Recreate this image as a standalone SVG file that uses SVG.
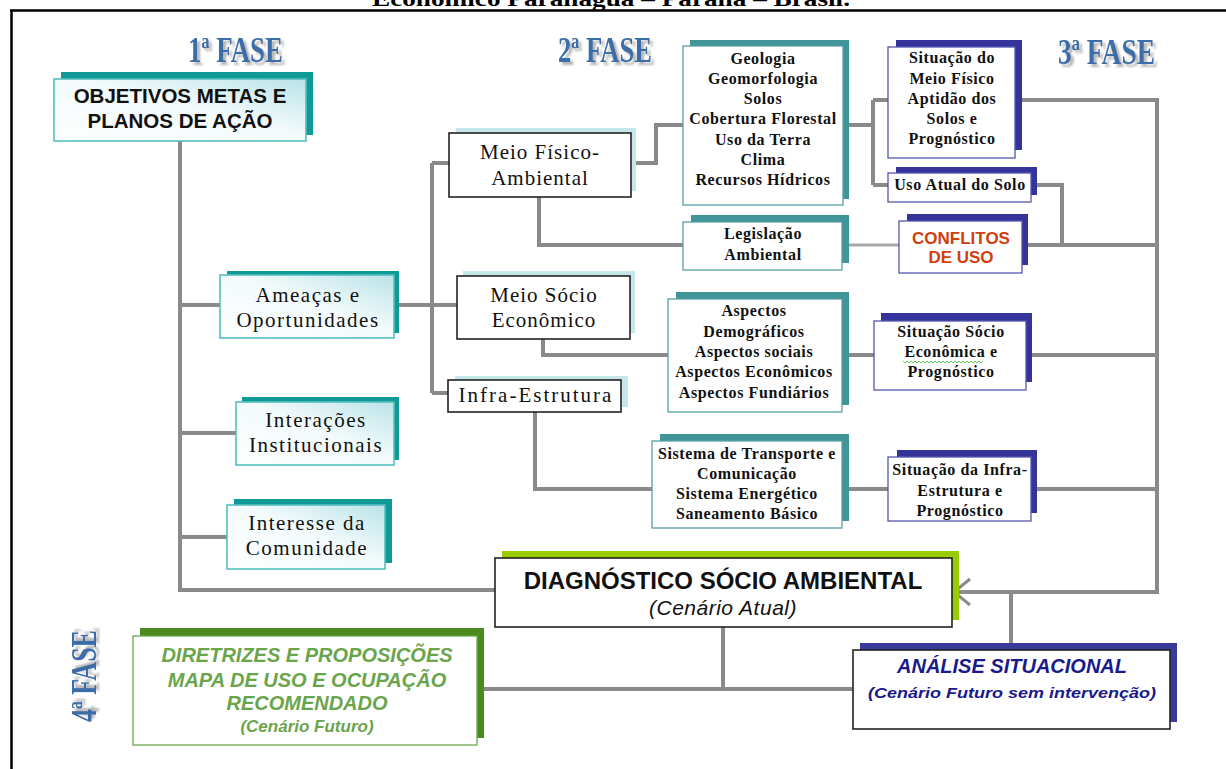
<svg xmlns="http://www.w3.org/2000/svg" width="1226" height="769" viewBox="0 0 1226 769">
<defs>
<linearGradient id="g1" x1="0" y1="1" x2="1" y2="0">
<stop offset="0" stop-color="#ffffff"/>
<stop offset="0.55" stop-color="#f2fafb"/>
<stop offset="1" stop-color="#b9e3e8"/>
</linearGradient>
<filter id="fs" x="-10%" y="-20%" width="130%" height="150%">
<feOffset in="SourceAlpha" dx="3" dy="3" result="o"/>
<feGaussianBlur in="o" stdDeviation="0.8" result="b"/>
<feFlood flood-color="#b5b5b5"/>
<feComposite in2="b" operator="in" result="s"/>
<feMerge><feMergeNode in="s"/><feMergeNode in="SourceGraphic"/></feMerge>
</filter>
<marker id="arr" markerUnits="userSpaceOnUse" markerWidth="26" markerHeight="30" refX="22" refY="14" orient="auto">
<path d="M6,1 L22,14 L6,27" fill="none" stroke="#8a8a8a" stroke-width="3"/>
</marker>
<style>
.c{fill:none;stroke:#8a8a8a;stroke-width:4}
.cl{fill:none;stroke:#a8a8a8;stroke-width:3}
.shT{fill:#0f9a98}
.shT2{fill:#409599}
.shN{fill:#333399}
.shC{fill:#c5e7ea}
.shG{fill:#99cc00}
.shD{fill:#4b8a1e}
.bL{fill:url(#g1);stroke:#55bfbf;stroke-width:1.6}
.bK{fill:#fff;stroke:#222;stroke-width:1.6}
.bT{fill:#fff;stroke:#5a9ea6;stroke-width:1.3}
.bN{fill:#fff;stroke:#5555b0;stroke-width:1.3}
.bG{fill:#fff;stroke:#6aa84f;stroke-width:1.3}
.ts{font-family:"Liberation Serif",serif;font-size:21px;letter-spacing:1.5px;text-anchor:middle;fill:#111}
.tb{font-family:"Liberation Serif",serif;font-weight:bold;font-size:16px;letter-spacing:0.6px;text-anchor:middle;fill:#111}
.ta{font-family:"Liberation Sans",Arial,sans-serif;font-weight:bold;text-anchor:middle;fill:#111}
.fase{font-family:"Liberation Serif",serif;font-weight:bold;font-size:36px;fill:#3a6ea8;filter:url(#fs)}
</style>
</defs>
<rect width="1226" height="769" fill="#fff"/>
<text x="372" y="6" font-family="Liberation Serif,serif" font-weight="bold" font-size="22" textLength="478" lengthAdjust="spacingAndGlyphs" fill="#000">Econômico Paranaguá – Paraná – Brasil.</text>
<path d="M10,10.5 H1226 M11.5,10 V769" fill="none" stroke="#000" stroke-width="2.5"/>

<g id="fases">
<text class="fase" x="188" y="62" textLength="95" lengthAdjust="spacingAndGlyphs">1ª FASE</text>
<text class="fase" x="558" y="62" textLength="94" lengthAdjust="spacingAndGlyphs">2ª FASE</text>
<text class="fase" x="1058" y="64" textLength="97" lengthAdjust="spacingAndGlyphs">3ª FASE</text>
<text class="fase" transform="translate(96,722) rotate(-90)" x="0" y="0" textLength="92" lengthAdjust="spacingAndGlyphs">4ª FASE</text>
</g>

<g id="connectors">
<path class="c" d="M180,141 V590 H495"/>
<path class="c" d="M180,305 H220 M180,433 H236 M180,537 H227"/>
<path class="c" d="M394,305 H457 M432,163 V393 M432,163 H449 M432,393 H448"/>
<path class="c" d="M631,163 H656 V125 H683"/>
<path class="c" d="M539,197 V245 H683"/>
<path class="cl" d="M842,245 H899"/>
<path class="c" d="M843,125 H873 M873,100 V185 M873,100 H888 M873,185 H888"/>
<path class="c" d="M1015,100 H1157 V592 H954" marker-end="url(#arr)"/>
<path class="c" d="M1031,185 H1062 V245 M1022,245 H1157"/>
<path class="c" d="M543,339 V355 H668 M842,355 H874 M1026,355 H1157"/>
<path class="c" d="M535,412 V489 H652 M842,489 H888 M1031,489 H1157"/>
<path class="c" d="M1011,592 V650"/>
<path class="c" d="M723,627 V689 M477,689 H853"/>
</g>

<g id="objetivos">
<rect class="shT" x="61" y="72" width="252" height="63"/>
<rect class="bL" x="54" y="79" width="252" height="62"/>
<text class="ta" x="180" y="103" font-size="20.5">OBJETIVOS METAS E</text>
<text class="ta" x="180" y="128" font-size="20.5">PLANOS DE AÇÃO</text>
</g>

<g id="ameacas">
<rect class="shT" x="227" y="271" width="172" height="62"/>
<rect class="bL" x="220" y="275" width="174" height="63"/>
<text class="ts" x="308" y="302">Ameaças e</text>
<text class="ts" x="308" y="327">Oportunidades</text>
</g>

<g id="interacoes">
<rect class="shT" x="242" y="397" width="157" height="63"/>
<rect class="bL" x="236" y="402" width="158" height="63"/>
<text class="ts" x="316" y="427">Interações</text>
<text class="ts" x="316" y="452">Institucionais</text>
</g>

<g id="interesse">
<rect class="shT" x="234" y="499" width="158" height="64"/>
<rect class="bL" x="227" y="505" width="158" height="64"/>
<text class="ts" x="307" y="530">Interesse da</text>
<text class="ts" x="307" y="555">Comunidade</text>
</g>

<g id="meio-fisico">
<rect class="shC" x="456" y="128" width="180" height="63"/>
<rect class="bK" x="449" y="133" width="182" height="64"/>
<text class="ts" x="540" y="159" style="letter-spacing:1px">Meio Físico-</text>
<text class="ts" x="540" y="185" style="letter-spacing:1px">Ambiental</text>
</g>

<g id="meio-socio">
<rect class="shC" x="463" y="271" width="172" height="62"/>
<rect class="bK" x="457" y="276" width="173" height="63"/>
<text class="ts" x="544" y="302" style="letter-spacing:1px">Meio Sócio</text>
<text class="ts" x="544" y="327" style="letter-spacing:1px">Econômico</text>
</g>

<g id="infra">
<rect class="shC" x="455" y="376" width="173" height="31"/>
<rect class="bK" x="448" y="380" width="173" height="32"/>
<text class="ts" x="536" y="402" style="letter-spacing:2px">Infra-Estrutura</text>
</g>

<g id="geologia">
<rect class="shT2" x="690" y="40" width="159" height="159"/>
<rect class="bT" x="683" y="46" width="160" height="159"/>
<text class="tb" x="763" y="64">Geologia</text>
<text class="tb" x="763" y="84">Geomorfologia</text>
<text class="tb" x="763" y="104">Solos</text>
<text class="tb" x="763" y="124">Cobertura Florestal</text>
<text class="tb" x="763" y="145">Uso da Terra</text>
<text class="tb" x="763" y="165">Clima</text>
<text class="tb" x="763" y="185">Recursos Hídricos</text>
</g>

<g id="legislacao">
<rect class="shT2" x="691" y="215" width="158" height="48"/>
<rect class="bT" x="683" y="222" width="159" height="48"/>
<text class="tb" x="763" y="239">Legislação</text>
<text class="tb" x="763" y="260">Ambiental</text>
</g>

<g id="aspectos">
<rect class="shT2" x="676" y="292" width="173" height="113"/>
<rect class="bT" x="668" y="299" width="174" height="113"/>
<text class="tb" x="754" y="316">Aspectos</text>
<text class="tb" x="754" y="337">Demográficos</text>
<text class="tb" x="754" y="357">Aspectos sociais</text>
<text class="tb" x="754" y="377">Aspectos Econômicos</text>
<text class="tb" x="754" y="398">Aspectos Fundiários</text>
</g>

<g id="sistema">
<rect class="shT2" x="660" y="434" width="189" height="87"/>
<rect class="bT" x="652" y="441" width="190" height="87"/>
<text class="tb" x="747" y="459">Sistema de Transporte e</text>
<text class="tb" x="747" y="479">Comunicação</text>
<text class="tb" x="747" y="499">Sistema Energético</text>
<text class="tb" x="747" y="519">Saneamento Básico</text>
</g>

<g id="situacao-fisico">
<rect class="shN" x="896" y="40" width="126" height="110"/>
<rect class="bN" x="888" y="47" width="127" height="111"/>
<text class="tb" x="952" y="63">Situação do</text>
<text class="tb" x="952" y="84">Meio Físico</text>
<text class="tb" x="952" y="104">Aptidão dos</text>
<text class="tb" x="952" y="124">Solos e</text>
<text class="tb" x="952" y="144">Prognóstico</text>
</g>

<g id="uso-atual">
<rect class="shN" x="896" y="167" width="141" height="28"/>
<rect class="bN" x="888" y="173" width="143" height="29"/>
<text class="tb" x="960" y="190">Uso Atual do Solo</text>
</g>

<g id="conflitos">
<rect class="shN" x="907" y="214" width="121" height="51"/>
<rect class="bN" x="899" y="221" width="123" height="52"/>
<text class="ta" x="961" y="244" font-size="17" style="fill:#d0400e">CONFLITOS</text>
<text class="ta" x="961" y="263" font-size="17" style="fill:#d0400e">DE USO</text>
</g>

<g id="situacao-socio">
<rect class="shN" x="881" y="313" width="151" height="69"/>
<rect class="bN" x="874" y="321" width="152" height="69"/>
<text class="tb" x="951" y="337">Situação Sócio</text>
<text class="tb" x="951" y="357">Econômica e</text>
<path d="M903,361 l2,2 2,-2 2,2 2,-2 2,2 2,-2 2,2 2,-2 2,2 2,-2 2,2 2,-2 2,2 2,-2 2,2 2,-2 2,2 2,-2 2,2 2,-2 2,2 2,-2 2,2 2,-2 2,2 2,-2 2,2 2,-2 2,2 2,-2 2,2 2,-2 2,2 2,-2 2,2 2,-2 2,2 2,-2 2,2 2,-2" fill="none" stroke="#33bb33" stroke-width="0.8"/>
<text class="tb" x="951" y="377">Prognóstico</text>
</g>

<g id="situacao-infra">
<rect class="shN" x="897" y="450" width="140" height="63"/>
<rect class="bN" x="888" y="457" width="143" height="64"/>
<text class="tb" x="960" y="475">Situação da Infra-</text>
<text class="tb" x="960" y="496">Estrutura e</text>
<text class="tb" x="960" y="516">Prognóstico</text>
</g>

<g id="diagnostico">
<rect class="shG" x="502" y="551" width="457" height="69"/>
<rect class="bK" x="495" y="558" width="457" height="69"/>
<text class="ta" x="723" y="589" font-size="24">DIAGNÓSTICO SÓCIO AMBIENTAL</text>
<text x="723" y="615" font-family="Liberation Sans,Arial,sans-serif" font-style="italic" font-size="21" letter-spacing="0.5" text-anchor="middle" fill="#111">(Cenário Atual)</text>
</g>

<g id="diretrizes">
<rect class="shD" x="140" y="628" width="344" height="110"/>
<rect class="bG" x="133" y="636" width="344" height="109"/>
<g font-family="Liberation Sans,Arial,sans-serif" font-weight="bold" font-style="italic" text-anchor="middle" fill="#6aa54c">
<text x="307" y="662" font-size="20">DIRETRIZES E PROPOSIÇÕES</text>
<text x="307" y="687" font-size="20">MAPA DE USO E OCUPAÇÃO</text>
<text x="307" y="710" font-size="20">RECOMENDADO</text>
<text x="307" y="732" font-size="17">(Cenário Futuro)</text>
</g>
</g>

<g id="analise">
<rect class="shN" x="860" y="643" width="317" height="79" style="fill:#3a3a9c"/>
<rect class="bK" x="853" y="650" width="317" height="79"/>
<text x="1012" y="673" font-family="Liberation Sans,Arial,sans-serif" font-weight="bold" font-style="italic" font-size="20" text-anchor="middle" fill="#1a1a8c">ANÁLISE SITUACIONAL</text>
<text x="1012" y="698" font-family="Liberation Sans,Arial,sans-serif" font-weight="bold" font-style="italic" font-size="15.5" text-anchor="middle" fill="#1a1a8c" textLength="288" lengthAdjust="spacingAndGlyphs">(Cenário Futuro sem intervenção)</text>
</g>
</svg>
